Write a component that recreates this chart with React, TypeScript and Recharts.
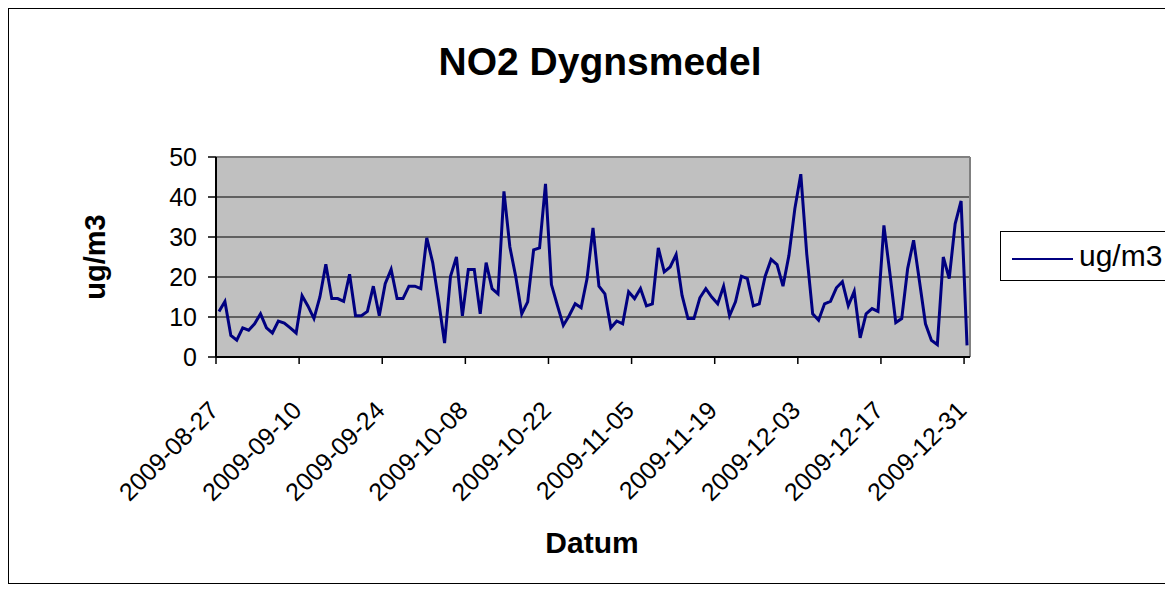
import { LineChart, Line, XAxis, YAxis, CartesianGrid, ReferenceLine } from 'recharts';

// daily means
const startDate = '2009-08-27';
const augValues = [11.4, 13.9, 5.4, 4.2, 7.3];
const sepValues = [
  6.7, 8.3, 10.8, 7.3, 6.0, 9.0, 8.5, 7.3, 6.0, 15.3, 12.7, 9.6, 15.0, 23.2, 14.6,
  14.6, 13.9, 20.7, 10.3, 10.3, 11.4, 17.7, 10.3, 18.3, 21.9, 14.6, 14.6, 17.7, 17.7, 17.1,
];
const octValues = [
  29.8, 23.6, 14.0, 3.5, 20.2, 25.0, 10.3, 21.9, 21.9, 10.8, 23.6, 17.1, 15.8, 41.4, 27.5, 20.0,
  10.8, 13.8, 26.8, 27.3, 43.3, 18.1, 12.9, 7.9, 10.4, 13.3, 12.3, 19.6, 32.3, 17.7, 15.8,
];
const novValues = [
  7.3, 9.0, 8.3, 16.3, 14.6, 17.1, 12.8, 13.3, 27.3, 21.3, 22.5, 25.6, 15.4, 9.6, 9.6,
  14.8, 17.1, 15.0, 13.3, 17.7, 10.3, 13.8, 20.2, 19.6, 12.8, 13.3, 20.2, 24.4, 23.1, 17.7,
];
const decValues = [
  25.4, 37.1, 45.7, 25.8, 10.8, 9.2, 13.3, 13.9, 17.3, 18.8, 12.8, 16.4, 4.8, 10.8, 12.1, 11.4,
  32.9, 21.0, 8.6, 9.6, 22.1, 29.2, 18.8, 8.3, 4.2, 3.1, 25.0, 19.6, 33.3, 39.0, 2.9,
];
const tickLabels = [
  '2009-08-27', '2009-09-10', '2009-09-24', '2009-10-08', '2009-10-22',
  '2009-11-05', '2009-11-19', '2009-12-03', '2009-12-17', '2009-12-31',
];
const yTicks = [0, 10, 20, 30, 40, 50];

const values = [...augValues, ...sepValues, ...octValues, ...novValues, ...decValues];

function addDays(iso: string, n: number) {
  const d = new Date(iso + 'T00:00:00Z');
  d.setUTCDate(d.getUTCDate() + n);
  return d.toISOString().slice(0, 10);
}

// each day is a category slot; the point sits in the middle of its slot
const data = values.map((v, i) => ({ date: addDays(startDate, i), slot: i + 0.5, value: v }));
const tickSlots = tickLabels.map((l) => data.findIndex((d) => d.date === l));

const FONT = '"Liberation Sans", Arial, Helvetica, sans-serif';
const NAVY = '#000080';

const DateTick = ({ x, y, payload }: any) => {
  const ax = x + 4;
  const ay = y + 46;
  return (
    <text
      x={ax}
      y={ay}
      transform={`rotate(-45, ${ax}, ${ay})`}
      textAnchor="end"
      fontSize={25}
      fontFamily={FONT}
      fill="#000"
    >
      {data[payload.value]?.date}
    </text>
  );
};

export default function App() {
  return (
    <div style={{ position: 'relative', width: 1165, height: 576, overflow: 'hidden', fontFamily: FONT, background: '#fff' }}>
      <div
        style={{
          position: 'absolute', left: 0, top: 0, width: 1165, height: 576, boxSizing: 'border-box',
          borderLeft: '1px solid #000', borderTop: '1px solid #000', borderBottom: '1px solid #000',
        }}
      />
      <div style={{ position: 'absolute', left: 592, top: 54, transform: 'translate(-50%, -50%)', fontSize: 39, fontWeight: 700, whiteSpace: 'nowrap' }}>
        NO2 Dygnsmedel
      </div>
      <div style={{ position: 'absolute', left: 87, top: 249, transform: 'translate(-50%, -50%) rotate(-90deg)', fontSize: 29, fontWeight: 700, whiteSpace: 'nowrap' }}>
        ug/m3
      </div>
      <div style={{ position: 'absolute', left: 584, top: 535, transform: 'translate(-50%, -50%)', fontSize: 30, fontWeight: 700, whiteSpace: 'nowrap' }}>
        Datum
      </div>

      <LineChart width={1165} height={576} data={data} margin={{ top: 149, right: 203, bottom: 107, left: 148 }} style={{ position: 'absolute', left: 0, top: 0 }}>
        <CartesianGrid vertical={false} stroke="#000" strokeWidth={1} fill="#C0C0C0" fillOpacity={1} />
        <XAxis
          dataKey="slot"
          type="number"
          domain={[0, values.length]}
          ticks={tickSlots}
          interval={0}
          height={120}
          tickSize={7}
          tick={<DateTick />}
          axisLine={{ stroke: '#000', strokeWidth: 2 }}
          tickLine={{ stroke: '#000', strokeWidth: 1.5 }}
        />
        <YAxis
          domain={[0, 50]}
          ticks={yTicks}
          interval={0}
          width={60}
          tickSize={8}
          tickMargin={11}
          tick={{ fontSize: 25, fill: '#000', fontFamily: FONT }}
          axisLine={{ stroke: '#000', strokeWidth: 2 }}
          tickLine={{ stroke: '#000', strokeWidth: 1.5 }}
        />
        <ReferenceLine y={50} stroke="#808080" strokeWidth={2} />
        <ReferenceLine x={values.length} stroke="#808080" strokeWidth={2} />
        <Line type="linear" dataKey="value" stroke={NAVY} strokeWidth={3} dot={false} isAnimationActive={false} />
      </LineChart>

      <div style={{ position: 'absolute', left: 992, top: 223, width: 200, height: 50, boxSizing: 'border-box', border: '1px solid #000', background: '#fff' }}>
        <div style={{ position: 'absolute', left: 11, top: 26, width: 61, height: 2, background: NAVY }} />
        <div style={{ position: 'absolute', left: 78, top: 24, transform: 'translateY(-50%)', fontSize: 30, whiteSpace: 'nowrap' }}>ug/m3</div>
      </div>
    </div>
  );
}
